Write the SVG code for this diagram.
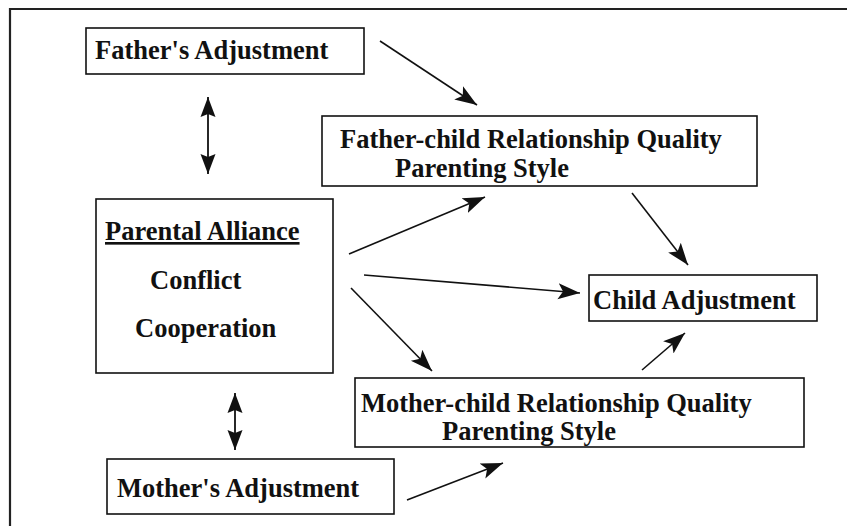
<svg xmlns="http://www.w3.org/2000/svg" width="847" height="526" viewBox="0 0 847 526">
<style>
.box{fill:#fff;stroke:#111;stroke-width:1.6}
.t{font-family:"Liberation Serif","Times New Roman",serif;font-weight:bold;font-size:26.5px;fill:#111}
.c{stroke:#111;stroke-width:1.6;fill:none;marker-end:url(#ah)}
.d{stroke:#111;stroke-width:1.8;fill:none;marker-end:url(#ah2);marker-start:url(#ah2s)}
</style>
<defs>
<marker id="ah" markerUnits="userSpaceOnUse" markerWidth="24" markerHeight="20" viewBox="0 0 24 20" refX="22" refY="10" orient="auto">
<path d="M0,2 L22,10 L0,18 L5,10 Z" fill="#111"/>
</marker>
<marker id="ah2" markerUnits="userSpaceOnUse" markerWidth="22" markerHeight="18" viewBox="0 0 22 18" refX="20" refY="9" orient="auto">
<path d="M0,1.5 L20,9 L0,16.5 L3,9 Z" fill="#111"/>
</marker>
<marker id="ah2s" markerUnits="userSpaceOnUse" markerWidth="22" markerHeight="18" viewBox="0 0 22 18" refX="2" refY="9" orient="auto">
<path d="M22,1.5 L2,9 L22,16.5 L19,9 Z" fill="#111"/>
</marker>
</defs>
<rect width="847" height="526" fill="#fff"/>
<path d="M10,526 L10,9 L847,9" fill="none" stroke="#222" stroke-width="2.2"/>
<g id="fathers-adjustment">
<rect class="box" x="86" y="28" width="278" height="46"/>
<text class="t" x="95" y="59">Father's Adjustment</text>
</g>
<g id="father-child">
<rect class="box" x="322" y="116" width="435" height="70"/>
<text class="t" x="340" y="148">Father-child Relationship Quality</text>
<text class="t" x="395" y="177">Parenting Style</text>
</g>
<g id="parental-alliance">
<rect class="box" x="96" y="199" width="237" height="174"/>
<text class="t" x="105" y="240" text-decoration="underline">Parental Alliance</text>
<text class="t" x="150" y="289">Conflict</text>
<text class="t" x="135" y="337">Cooperation</text>
</g>
<g id="child-adjustment">
<rect class="box" x="589" y="275" width="228" height="46"/>
<text class="t" x="593" y="309">Child Adjustment</text>
</g>
<g id="mother-child">
<rect class="box" x="355" y="378" width="449" height="69"/>
<text class="t" x="361" y="412">Mother-child Relationship Quality</text>
<text class="t" x="442" y="440">Parenting Style</text>
</g>
<g id="mothers-adjustment">
<rect class="box" x="107" y="459" width="287" height="55"/>
<text class="t" x="117" y="497">Mother's Adjustment</text>
</g>
<g id="connectors">
<line class="d" x1="208" y1="97" x2="208" y2="174"/>
<line class="d" x1="235" y1="393" x2="235" y2="450"/>
<line class="c" x1="380" y1="41" x2="477" y2="105"/>
<line class="c" x1="349" y1="254" x2="485" y2="197"/>
<line class="c" x1="364" y1="275" x2="580" y2="293"/>
<line class="c" x1="351" y1="288" x2="432" y2="371"/>
<line class="c" x1="632" y1="193" x2="688" y2="265"/>
<line class="c" x1="642" y1="370" x2="685" y2="333"/>
<line class="c" x1="407" y1="500" x2="503" y2="463"/>
</g>
</svg>
